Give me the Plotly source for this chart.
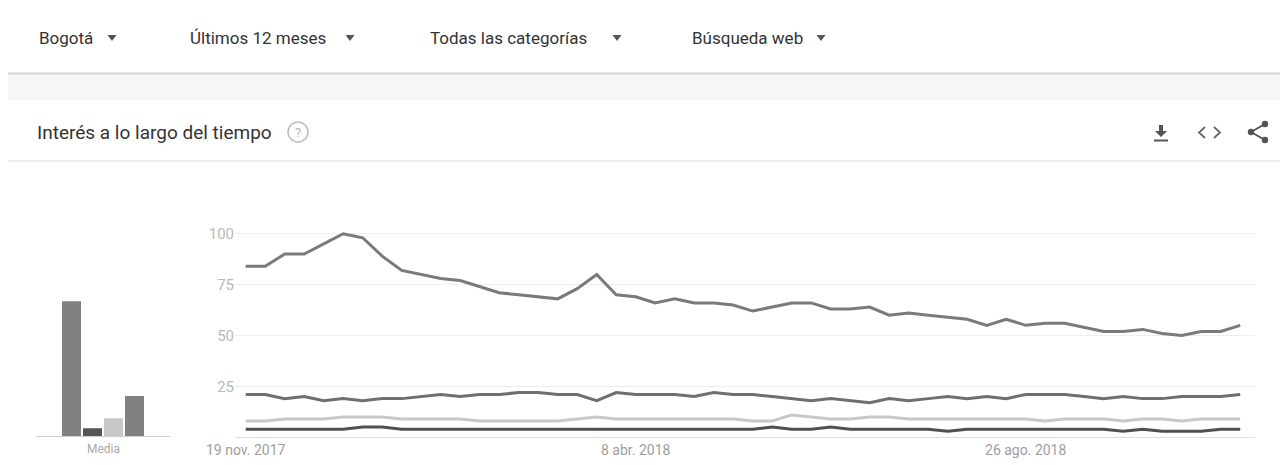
import pandas as pd
import plotly.graph_objects as go

# page body has an 8px default margin; the figure is sized to fill the rest
OFF = 8
W, H = 1288 - OFF, 465 - OFF

# ---------------- data ----------------
weeks = pd.date_range("2017-11-19", periods=52, freq="7D")

serie_a = [84, 84, 90, 90, 95, 100, 98, 89, 82, 80, 78, 77, 74, 71,
           70, 69, 68, 73, 80, 70, 69, 66, 68, 66, 66, 65, 62, 64,
           66, 66, 63, 63, 64, 60, 61, 60, 59, 58, 55, 58, 55,
           56, 56, 54, 52, 52, 53, 51, 50, 52, 52, 55]
serie_b = [21, 21, 19, 20, 18, 19, 18, 19, 19, 20, 21, 20, 21, 21,
           22, 22, 21, 21, 18, 22, 21, 21, 21, 20, 22, 21, 21, 20,
           19, 18, 19, 18, 17, 19, 18, 19, 20, 19, 20, 19, 21,
           21, 21, 20, 19, 20, 19, 19, 20, 20, 20, 21]
serie_c = [8, 8, 9, 9, 9, 10, 10, 10, 9, 9, 9, 9, 8, 8,
           8, 8, 8, 9, 10, 9, 9, 9, 9, 9, 9, 9, 8, 8,
           11, 10, 9, 9, 10, 10, 9, 9, 9, 9, 9, 9, 9,
           8, 9, 9, 9, 8, 9, 9, 8, 9, 9, 9]
serie_d = [4, 4, 4, 4, 4, 4, 5, 5, 4, 4, 4, 4, 4, 4,
           4, 4, 4, 4, 4, 4, 4, 4, 4, 4, 4, 4, 4, 5,
           4, 4, 5, 4, 4, 4, 4, 4, 3, 4, 4, 4, 4,
           4, 4, 4, 4, 3, 4, 3, 3, 3, 4, 4]

media = [67, 4, 9, 20]

tick_dates = ["2017-11-19", "2018-04-08", "2018-08-26"]
tick_text = ["19 nov. 2017", "8 abr. 2018", "26 ago. 2018"]
y_ticks = [0, 25, 50, 75, 100]
y_text = ["", "25", "50", "75", "100"]

filters = ["Bogotá", "Últimos 12 meses", "Todas las categorías", "Búsqueda web"]
title_text = "Interés a lo largo del tiempo"

# ---------------- styling ----------------
line_colors = ["#7a7a7a", "#6f6f6f", "#c8c8c8", "#505050"]
bar_colors = ["#818181", "#555555", "#c8c8c8", "#818181"]
FONT = "Roboto, Arial, sans-serif"


def px(x):
    return (x - OFF) / W


def py(y):
    return 1 - (y - OFF) / H


fig = go.Figure()

for vals, col in zip([serie_a, serie_b, serie_c, serie_d], line_colors):
    fig.add_trace(go.Scatter(x=weeks, y=vals, mode="lines",
                             line=dict(color=col, width=3),
                             xaxis="x", yaxis="y", showlegend=False,
                             hoverinfo="skip"))

fig.add_trace(go.Bar(x=[0, 1, 2, 3], y=media, marker_color=bar_colors,
                     marker_line_width=0, width=0.905,
                     xaxis="x2", yaxis="y2", showlegend=False,
                     hoverinfo="skip"))

# plot-area pixel geometry (page coordinates)
x_left, x_right = 235, 1255
y_bot, y_top = 437.3, 227.6
first_pt, step = 245.7, 19.5
day_px = step / 7
x_range = [weeks[0] - pd.Timedelta(days=(first_pt - x_left) / day_px),
           weeks[-1] + pd.Timedelta(days=(x_right - (first_pt + 51 * step)) / day_px)]

fig.update_layout(
    template="none",
    width=W, height=H,
    margin=dict(l=0, r=0, t=0, b=0, pad=0, autoexpand=False),
    paper_bgcolor="white", plot_bgcolor="white",
    font=dict(family=FONT),
    xaxis=dict(domain=[px(x_left), px(x_right)], range=x_range,
               tickvals=tick_dates, ticktext=tick_text,
               tickfont=dict(size=14, color="#9e9e9e"),
               showgrid=False, zeroline=False, showline=True,
               linecolor="#dddddd", linewidth=1, ticks="", automargin=False),
    yaxis=dict(domain=[py(y_bot), py(y_top)], range=[0, 103],
               tickvals=y_ticks, ticktext=y_text,
               tickfont=dict(size=15, color="#b8b8b8"),
               showgrid=True, gridcolor="#eeeeee", gridwidth=1,
               zeroline=False, showline=False, ticks="", automargin=False),
    xaxis2=dict(domain=[px(36), px(170)], range=[-1.69, 4.69],
                showticklabels=False, showgrid=False, zeroline=False,
                showline=True, linecolor="#cccccc", linewidth=1, ticks="",
                anchor="y2", automargin=False),
    yaxis2=dict(domain=[py(436.3), py(y_top + 1)], range=[0, 103],
                showticklabels=False, showgrid=False, zeroline=False,
                showline=False, anchor="x2", automargin=False),
)

shapes = []
annotations = []

# top filter row
filter_x = [37, 188, 428, 690]
arrow_x = [112, 350, 617, 821]
for t, fx, ax in zip(filters, filter_x, arrow_x):
    annotations.append(dict(x=px(fx), y=py(38), xref="paper", yref="paper",
                            text=t, showarrow=False, xanchor="left", yanchor="middle",
                            font=dict(size=17, color="#333333", family=FONT)))
    shapes.append(dict(type="path", xref="paper", yref="paper",
                       path=f"M {px(ax-4.5)} {py(35)} L {px(ax+4.5)} {py(35)} L {px(ax)} {py(41)} Z",
                       fillcolor="#555555", line=dict(width=0)))

# divider line and grey band
shapes.append(dict(type="rect", xref="paper", yref="paper",
                   x0=px(8), x1=1, y0=py(100), y1=py(74),
                   fillcolor="#f6f6f6", line=dict(width=0), layer="below"))
shapes.append(dict(type="line", xref="paper", yref="paper",
                   x0=px(8), x1=1, y0=py(73.5), y1=py(73.5),
                   line=dict(color="#d4d4d4", width=2)))
# card separator
shapes.append(dict(type="line", xref="paper", yref="paper",
                   x0=px(8), x1=1, y0=py(161), y1=py(161),
                   line=dict(color="#ececec", width=2)))

# title
annotations.append(dict(x=px(35), y=py(133), xref="paper", yref="paper",
                        text=title_text, showarrow=False, xanchor="left", yanchor="middle",
                        font=dict(size=19, color="#333333", family=FONT)))
# help icon
shapes.append(dict(type="circle", xref="paper", yref="paper",
                   x0=px(288), x1=px(308), y0=py(142), y1=py(122),
                   line=dict(color="#bdbdbd", width=1.5)))
annotations.append(dict(x=px(298), y=py(132.5), xref="paper", yref="paper",
                        text="?", showarrow=False, xanchor="center", yanchor="middle",
                        font=dict(size=13, color="#b5b5b5", family=FONT)))

# download icon
cx = 1161
shapes.append(dict(type="path", xref="paper", yref="paper",
                   path=(f"M {px(cx-2)} {py(125)} L {px(cx+2)} {py(125)} L {px(cx+2)} {py(131)} "
                         f"L {px(cx+6)} {py(131)} L {px(cx)} {py(137)} L {px(cx-6)} {py(131)} "
                         f"L {px(cx-2)} {py(131)} Z"),
                   fillcolor="#555555", line=dict(width=0)))
shapes.append(dict(type="line", xref="paper", yref="paper",
                   x0=px(cx-7), x1=px(cx+7), y0=py(140.5), y1=py(140.5),
                   line=dict(color="#555555", width=2)))
# embed icon < >
shapes.append(dict(type="path", xref="paper", yref="paper",
                   path=f"M {px(1205)} {py(127)} L {px(1199)} {py(132.5)} L {px(1205)} {py(138)}",
                   line=dict(color="#666666", width=1.8)))
shapes.append(dict(type="path", xref="paper", yref="paper",
                   path=f"M {px(1214)} {py(127)} L {px(1220)} {py(132.5)} L {px(1214)} {py(138)}",
                   line=dict(color="#666666", width=1.8)))
# share icon
sx1, sx2 = 1251, 1265
shapes.append(dict(type="path", xref="paper", yref="paper",
                   path=f"M {px(sx2)} {py(124)} L {px(sx1)} {py(132)} L {px(sx2)} {py(140)}",
                   line=dict(color="#555555", width=1.8)))
for (ccx, ccy) in [(sx2, 124), (sx1, 132), (sx2, 140)]:
    shapes.append(dict(type="circle", xref="paper", yref="paper",
                       x0=px(ccx-3.2), x1=px(ccx+3.2), y0=py(ccy+3.2), y1=py(ccy-3.2),
                       fillcolor="#555555", line=dict(width=0)))

# Media label
annotations.append(dict(x=px(103), y=py(449), xref="paper", yref="paper",
                        text="Media", showarrow=False, xanchor="center", yanchor="middle",
                        font=dict(size=12, color="#a8a8a8", family=FONT)))

fig.update_layout(shapes=shapes, annotations=annotations)

fig.write_html("out.html")
